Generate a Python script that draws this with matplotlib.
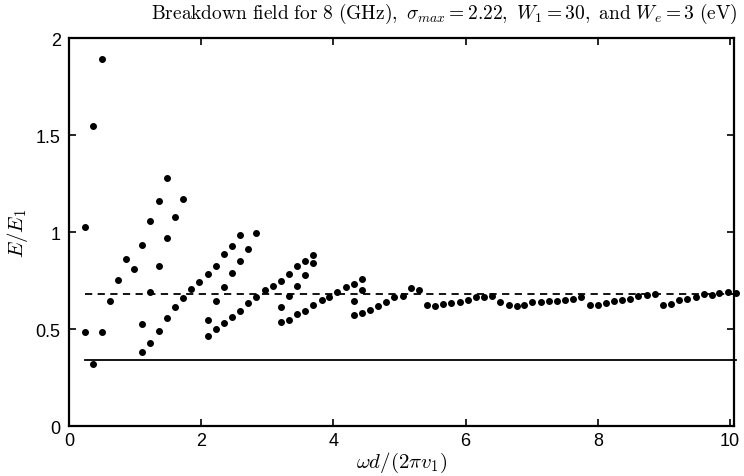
import numpy as np
import matplotlib
matplotlib.use("Agg")
import matplotlib.pyplot as plt

plt.rcParams['mathtext.fontset'] = 'cm'
plt.rcParams['font.family'] = ['Liberation Sans', 'DejaVu Sans']

# breakdown points (x = omega d / (2 pi v1), y = E/E1)
x_main = [0.25, 0.37, 0.50, 0.62, 0.74, 0.87, 0.99, 1.11, 1.23, 1.36, 1.48, 1.60, 1.73,
          1.85, 1.97, 2.10, 2.22, 2.34, 2.46, 2.59, 2.71, 2.83, 2.96, 3.08, 3.20, 3.33,
          3.45, 3.57, 3.69, 3.82, 3.94, 4.06, 4.19, 4.31, 4.43, 4.56, 4.68, 4.80, 4.92,
          5.05, 5.17, 5.29, 5.42, 5.54, 5.66, 5.78, 5.91, 6.03, 6.15, 6.28, 6.40, 6.52,
          6.65, 6.77, 6.89, 7.01, 7.14, 7.26, 7.38, 7.51, 7.63, 7.75, 7.88, 8.00, 8.12,
          8.25, 8.37, 8.49, 8.61, 8.74, 8.86, 8.98, 9.11, 9.23, 9.35, 9.48, 9.60, 9.72,
          9.84, 9.97, 10.09]
y_main = [1.027, 1.548, 1.890, 0.646, 0.754, 0.862, 0.807, 0.935, 1.057, 1.158, 1.278,
          1.079, 1.170, 0.705, 0.742, 0.785, 0.826, 0.885, 0.926, 0.986, 0.912, 0.995,
          0.701, 0.723, 0.746, 0.782, 0.823, 0.849, 0.883, 0.651, 0.667, 0.691, 0.715,
          0.730, 0.756, 0.598, 0.617, 0.639, 0.667, 0.672, 0.710, 0.701, 0.624, 0.620,
          0.627, 0.634, 0.638, 0.651, 0.663, 0.667, 0.670, 0.641, 0.624, 0.620, 0.624,
          0.638, 0.641, 0.644, 0.646, 0.649, 0.653, 0.665, 0.625, 0.622, 0.634, 0.643,
          0.651, 0.656, 0.672, 0.674, 0.682, 0.625, 0.627, 0.648, 0.656, 0.667, 0.679,
          0.677, 0.684, 0.691, 0.687]

# second and third solutions where they exist
x_second = [0.25, 0.37, 0.50, 1.11, 1.23, 1.36, 1.48, 1.60, 1.73, 2.10, 2.22, 2.34, 2.46,
            2.59, 2.71, 2.83, 3.20, 3.33, 3.45, 3.57, 3.69, 4.31, 4.43]
y_second = [0.483, 0.321, 0.483, 0.526, 0.689, 0.823, 0.971, 0.612, 0.660, 0.545, 0.646,
            0.715, 0.787, 0.850, 0.636, 0.663, 0.612, 0.668, 0.723, 0.780, 0.842, 0.644,
            0.701]
x_third = [1.11, 1.23, 1.36, 1.48, 2.10, 2.22, 2.34, 2.46, 2.59, 3.20, 3.33, 3.45, 3.57,
           3.69, 4.31, 4.43]
y_third = [0.381, 0.429, 0.488, 0.557, 0.466, 0.500, 0.531, 0.560, 0.594, 0.536, 0.548,
           0.576, 0.593, 0.624, 0.572, 0.584]

# reference levels
line_x = [0.25, 10.09]
dashed_level = 0.682
solid_level = 0.340

fig = plt.figure(figsize=(7.44, 4.77), dpi=100)
ax = fig.add_axes([0.0927, 0.1048, 0.8939, 0.8134])

ax.plot(line_x, [dashed_level, dashed_level], 'k--', lw=1.3, dashes=(4, 3), clip_on=False)
ax.plot(line_x, [solid_level, solid_level], 'k-', lw=1.3, clip_on=False)
for xs, ys in [(x_main, y_main), (x_second, y_second), (x_third, y_third)]:
    ax.plot(xs, ys, ls='none', marker='o', color='k', ms=4.0, clip_on=False, zorder=3)

ax.set_xlim(0, 10.06)
ax.set_ylim(0, 2)
ax.set_xticks([0, 2, 4, 6, 8, 10])
ax.set_yticks([0, 0.5, 1, 1.5, 2])
ax.set_yticklabels(['0', '0.5', '1', '1.5', '2'])
ax.tick_params(direction='in', top=True, right=True, length=5, width=1.2,
               labelsize=13, pad=4)
ax.tick_params(axis='y', pad=6)
for s in ax.spines.values():
    s.set_linewidth(1.6)

ax.set_xlabel(r'$\omega d/(2\pi v_1)$', fontsize=15, labelpad=1)
ax.set_ylabel(r'$E/E_1$', fontsize=15, labelpad=4)
fig.text(738 / 744, 1 - 18.5 / 477,
         r'$\mathrm{Breakdown\ field\ for\ 8\ (GHz)},\ \sigma_{max}=2.22,\ '
         r'W_1=30,\ \mathrm{and}\ W_e=3\ \mathrm{(eV)}$',
         fontsize=14, ha='right', va='baseline')

fig.savefig('out.png', dpi=100)
